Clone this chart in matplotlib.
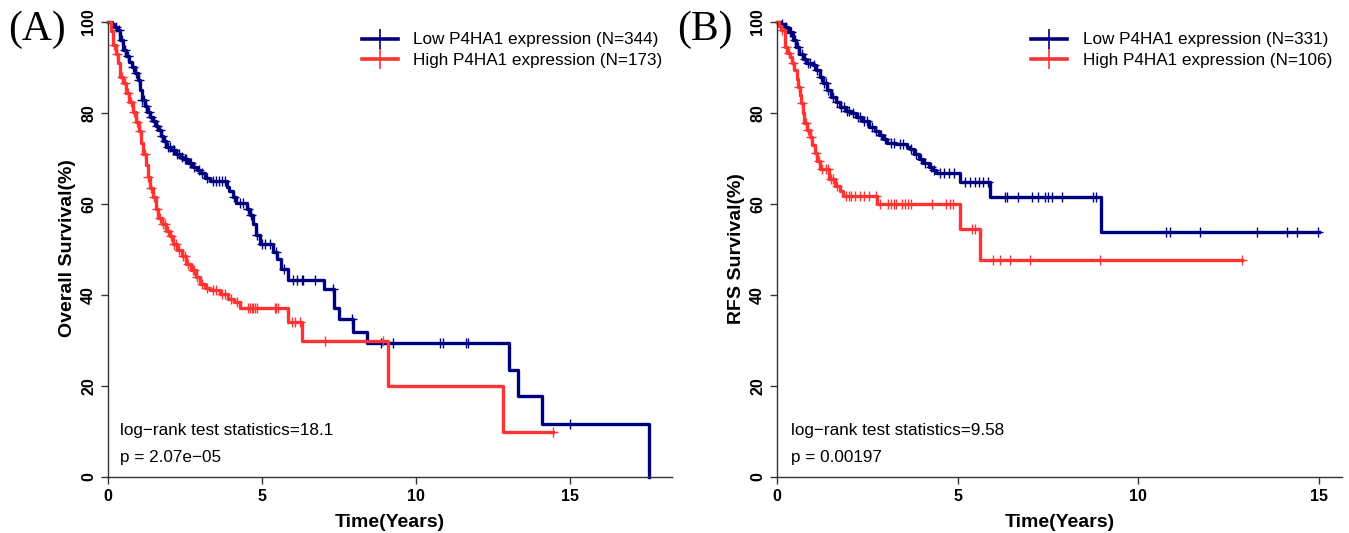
import numpy as np
import matplotlib
matplotlib.use("Agg")
import matplotlib.pyplot as plt

plt.rcParams['font.family'] = ['Liberation Sans', 'DejaVu Sans']

# ---- Panel A: overall survival (times in years, survival in %) ----
a_low_t = [0, 0.12, 0.2, 0.28, 0.38, 0.49, 0.6, 0.7, 0.77, 0.88,
           0.98, 1.04, 1.09, 1.2, 1.28, 1.36, 1.45, 1.55, 1.63, 1.72,
           1.8, 1.9, 2.05, 2.2, 2.35, 2.44, 2.6, 2.75, 2.9, 2.99,
           3.15, 3.3, 3.85, 3.94, 4.05, 4.15, 4.5, 4.6, 4.7, 4.79,
           4.93, 5.35, 5.5, 5.63, 5.85, 7.0, 7.35, 7.5, 7.95, 8.4,
           13.03, 13.3, 14.1, 17.56]
a_low_s = [100, 99.5, 99, 98.2, 96, 93.9, 92.5, 91.2, 90.2, 88.8,
           87.3, 85, 82.9, 81.5, 80.3, 79.2, 78.2, 77.2, 76.3, 75,
           73.8, 72.6, 71.8, 71, 70.3, 69.8, 69, 68.2, 67.4, 66.8,
           65.8, 65, 63.8, 62.8, 61.5, 60.3, 59.0, 57.6, 55.5, 53.1,
           51.3, 49.4, 47.9, 45.7, 43.4, 41.3, 37.1, 34.7, 31.9, 29.4,
           23.6, 17.7, 11.7, 0]
a_low_cens = [0.25, 0.35, 0.45, 0.55, 0.65, 0.8, 0.9, 1.0, 1.12, 1.18,
              1.25, 1.32, 1.4, 1.5, 1.58, 1.68, 1.75, 1.85, 1.95, 2.0,
              2.1, 2.15, 2.25, 2.3, 2.4, 2.5, 2.55, 2.65, 2.7, 2.8,
              2.95, 3.05, 3.2, 3.4, 3.5, 3.6, 3.7, 3.8, 4.1, 4.3,
              4.4, 4.55, 4.65, 4.85, 5.0, 5.1, 5.25, 5.45, 5.7, 6.0,
              6.13, 6.3, 6.33, 6.72, 7.3, 7.92, 8.87, 9.26, 10.78, 10.88,
              11.62, 11.69, 15.0]

a_high_t = [0, 0.1, 0.17, 0.25, 0.32, 0.39, 0.5, 0.6, 0.7, 0.82,
            0.92, 1.0, 1.08, 1.15, 1.22, 1.29, 1.36, 1.45, 1.55, 1.63,
            1.75, 1.9, 2.0, 2.12, 2.25, 2.4, 2.55, 2.7, 2.85, 2.99,
            3.15, 3.3, 3.64, 3.9, 4.08, 4.3, 5.85, 6.3, 9.08, 12.82,
            14.44]
a_high_s = [100, 98, 95, 93, 91, 88, 86.5, 84.5, 82.5, 80.3,
            78, 76, 73.5, 71, 68.5, 66, 63.5, 61.5, 59, 57,
            55.5, 54, 53, 51.2, 50, 48.5, 46.8, 45.5, 44, 42.4,
            41.5, 41, 40.2, 39.2, 38.5, 37.2, 34.1, 29.8, 19.9, 9.9,
            9.9]
a_high_cens = [0.2, 0.3, 0.45, 0.55, 0.65, 0.75, 0.85, 0.95, 1.05, 1.2,
               1.3, 1.4, 1.5, 1.6, 1.7, 1.8, 1.85, 1.95, 2.05, 2.15,
               2.2, 2.3, 2.45, 2.5, 2.6, 2.75, 2.8, 2.9, 3.05, 3.2,
               3.4, 3.5, 3.7, 3.8, 4.0, 4.2, 4.55, 4.6, 4.66, 4.72,
               4.78, 4.83, 5.42, 5.47, 5.52, 5.97, 6.07, 6.23, 7.05, 8.93,
               14.44]

# ---- Panel B: RFS ----
b_low_t = [0, 0.1, 0.21, 0.3, 0.44, 0.53, 0.62, 0.72, 0.81, 1.0,
           1.09, 1.18, 1.27, 1.38, 1.5, 1.62, 1.73, 1.9, 2.05, 2.19,
           2.35, 2.56, 2.7, 2.82, 2.93, 3.05, 3.3, 3.6, 3.67, 3.8,
           3.93, 4.04, 4.2, 4.3, 4.41, 5.06, 5.89, 8.98, 15.0]
b_low_s = [100, 99.6, 98.9, 97.8, 96, 94.5, 93, 91.8, 90.9, 90.5,
           89.4, 88, 86.5, 85, 83.6, 82.4, 81.4, 80.5, 80, 79.2,
           78.2, 77, 76, 75.2, 74.2, 73.3, 73.1, 72.5, 72, 71,
           69.8, 69, 68.2, 67.5, 66.8, 64.8, 61.5, 53.9, 53.9]
b_low_cens = [0.15, 0.25, 0.35, 0.4, 0.5, 0.58, 0.68, 0.78, 0.85, 0.92,
              1.02, 1.12, 1.22, 1.3, 1.35, 1.42, 1.55, 1.65, 1.78, 1.85,
              1.95, 2.0, 2.1, 2.25, 2.3, 2.4, 2.5, 2.62, 2.75, 2.88,
              3.0, 3.15, 3.25, 3.4, 3.5, 3.72, 3.85, 3.98, 4.1, 4.25,
              4.35, 4.5, 4.62, 4.75, 4.9, 5.2, 5.35, 5.47, 5.6, 5.7,
              5.85, 6.3, 6.36, 6.66, 7.05, 7.22, 7.41, 7.49, 7.6, 7.88,
              8.74, 8.82, 10.76, 10.87, 11.7, 13.28, 14.11, 14.39, 14.97]

b_high_t = [0, 0.06, 0.12, 0.21, 0.28, 0.35, 0.42, 0.48, 0.54, 0.58,
            0.63, 0.67, 0.72, 0.76, 0.83, 0.9, 0.97, 1.04, 1.1, 1.18,
            1.45, 1.6, 1.73, 1.82, 2.78, 5.06, 5.61, 12.87]
b_high_s = [100, 99.2, 98.2, 94.5, 93.2, 92.3, 91, 89.4, 87.5, 85.8,
            84, 82.1, 80, 77.7, 76.2, 74.8, 73, 71.2, 69.5, 67.8,
            65.4, 64, 62.8, 61.7, 60, 54.4, 47.7, 47.7]
b_high_cens = [0.15, 0.25, 0.32, 0.45, 0.6, 0.7, 0.8, 0.87, 0.95, 1.08,
               1.15, 1.25, 1.35, 1.42, 1.5, 1.55, 1.65, 1.9, 2.0, 2.06,
               2.15, 2.3, 2.4, 2.56, 2.75, 2.85, 3.06, 3.15, 3.25, 3.3,
               3.45, 3.55, 3.62, 3.72, 4.28, 4.69, 4.78, 4.86, 5.39, 5.47,
               5.97, 6.16, 6.44, 7.0, 8.93, 12.87]

low_color = '#00007f'
high_color = '#ff3333'


def km(ax, t, s, cens, color, label):
    t = np.asarray(t)
    s = np.asarray(s)
    ax.step(t, s, where='post', color=color, lw=2.4, clip_on=False)
    cens = np.asarray(cens)
    idx = np.searchsorted(t, cens, side='right') - 1
    ax.plot(cens, s[idx], ls='none', marker='+', ms=7, mew=1.0,
            color=color, clip_on=False)
    # legend proxy
    ax.plot([], [], color=color, lw=2.6, marker='+', ms=15, mew=1.2,
            label=label)


fig = plt.figure(figsize=(13.49, 5.33), dpi=100)
ax_a = fig.add_axes([0.080, 0.105, 0.418, 0.858])
ax_b = fig.add_axes([0.576, 0.105, 0.419, 0.858])

km(ax_a, a_low_t, a_low_s, a_low_cens, low_color,
   'Low P4HA1 expression (N=344)')
km(ax_a, a_high_t, a_high_s, a_high_cens, high_color,
   'High P4HA1 expression (N=173)')
km(ax_b, b_low_t, b_low_s, b_low_cens, low_color,
   'Low P4HA1 expression (N=331)')
km(ax_b, b_high_t, b_high_s, b_high_cens, high_color,
   'High P4HA1 expression (N=106)')

panels = [(ax_a, 18.3, 'Overall Survival(%)', '18.1', '2.07e\u221205', '(A)'),
          (ax_b, 15.65, 'RFS Survival(%)', '9.58', '0.00197', '(B)')]

for ax, xmax, ylab, stat, pval, tag in panels:
    ax.set_xlim(0, xmax)
    ax.set_ylim(0, 100.5)
    ax.set_xticks([0, 5, 10, 15])
    ax.set_yticks([0, 20, 40, 60, 80, 100])
    for sp in ['top', 'right']:
        ax.spines[sp].set_visible(False)
    for sp in ['left', 'bottom']:
        ax.spines[sp].set_color('#333333')
        ax.spines[sp].set_linewidth(1.0)
    ax.spines['left'].set_bounds(0, 100)
    ax.tick_params(direction='out', length=5, width=1, colors='#333333',
                   labelcolor='black', labelsize=11.5)
    for lab in ax.get_xticklabels() + ax.get_yticklabels():
        lab.set_fontweight('bold')
    for lab in ax.get_yticklabels():
        lab.set_rotation(90)
        lab.set_va('center')
    ax.set_xlabel('Time(Years)', fontsize=14, fontweight='bold', labelpad=7)
    ax.set_ylabel(ylab, fontsize=14, fontweight='bold', labelpad=4)
    ax.text(0.4, 10.3, 'log\u2212rank test statistics=' + stat,
            fontsize=12.3, va='center')
    ax.text(0.4, 4.4, 'p = ' + pval, fontsize=12.3, va='center')
    ax.legend(loc='upper left', bbox_to_anchor=(0.438, 0.987), frameon=False,
              fontsize=12.3, handlelength=2.1, handletextpad=0.9,
              labelspacing=0.3, borderaxespad=0)
    ax.text(-0.177, 0.978, tag, transform=ax.transAxes, fontsize=30,
            family='Liberation Serif', ha='left', va='center')

fig.savefig('out.png', dpi=100)
